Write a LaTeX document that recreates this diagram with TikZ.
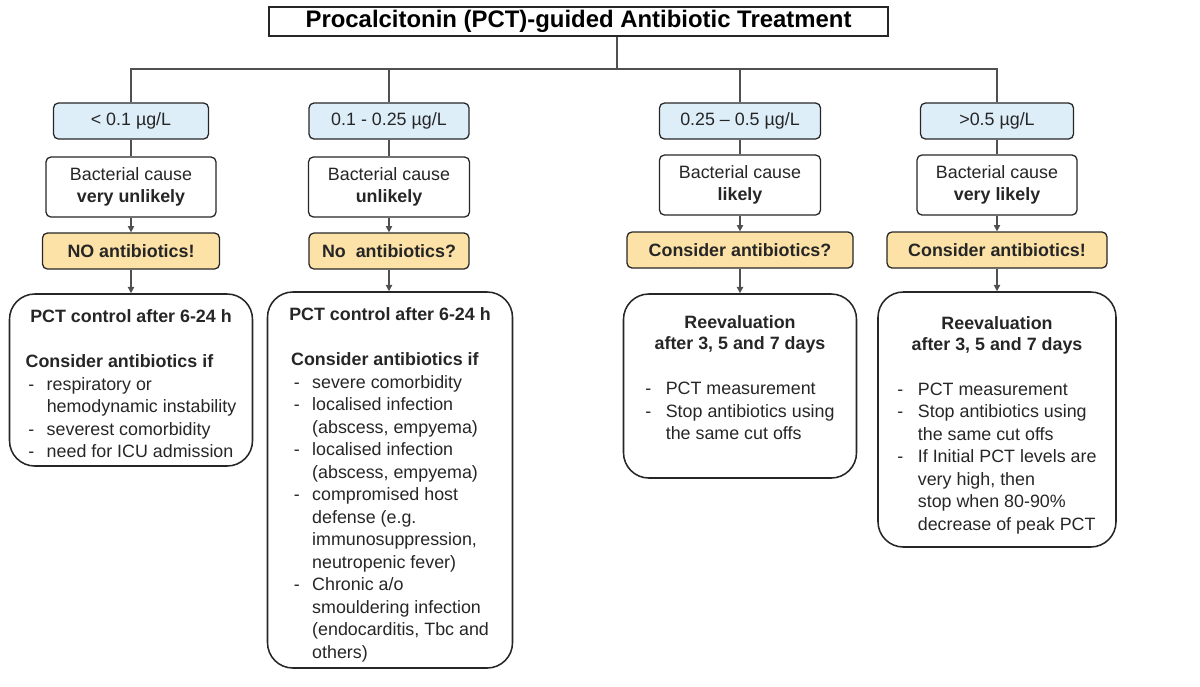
\documentclass[tikz,border=0pt]{standalone}
\usepackage{fontspec}
\setmainfont{Liberation Sans}
\usetikzlibrary{arrows.meta}
\newlength{\unitpx}
\setlength{\unitpx}{0.025cm}
\definecolor{rangeblue}{HTML}{DDEEF9}
\definecolor{adviceorange}{HTML}{FCE2A6}
\definecolor{linegray}{HTML}{505050}
\newcommand{\bodyfont}{\fontsize{12.7}{16}\selectfont}
\newcommand{\topgap}[1]{\rule{0pt}{#1}}
\begin{document}
\begin{tikzpicture}[x=\unitpx, y=-\unitpx,
% common options for the small boxes:
smallbox/.style = {draw=black!85, line width=0.9pt, rounded corners=3.5pt,
            align=center, inner sep=0, text=black!85, font=\bodyfont},
pctrange/.style = {smallbox, fill=rangeblue, minimum height=36\unitpx},
causebox/.style = {smallbox, fill=white, minimum height=60\unitpx},
advicebox/.style = {smallbox, fill=adviceorange, minimum height=36\unitpx, font=\bodyfont\bfseries},
% common options for the big boxes:
checkbox/.style = {draw=black!85, line width=1.1pt, rounded corners=18pt,
            align=center, inner sep=0, text=black!85, font=\bodyfont},
% common options for the connectors:
link/.style = {draw=linegray, line width=0.9pt},
arrowlink/.style = {link, -{Triangle[length=4.5pt,width=4.5pt]}}]
\useasboundingbox (0,0) rectangle (1200,686);
\node[draw=black!85, line width=1.4pt, minimum width=619\unitpx, minimum height=29\unitpx,
      inner sep=0, font=\fontsize{17}{20}\selectfont\bfseries] (title) at (578.5,21.5)
      {Procalcitonin (PCT)-guided Antibiotic Treatment};
\coordinate (hub) at (617,69);
% PCT ranges
\node[pctrange, minimum width=155\unitpx] (rng1) at (131,121) {< 0.1 µg/L};
\node[pctrange, minimum width=160\unitpx] (rng2) at (389,121) {0.1 - 0.25 µg/L};
\node[pctrange, minimum width=161\unitpx] (rng3) at (740,121) {0.25 – 0.5 µg/L};
\node[pctrange, minimum width=153\unitpx] (rng4) at (997,121) {>0.5 µg/L};
% bacterial cause
\node[causebox, minimum width=170\unitpx] (cause1) at (131,187) {Bacterial cause\\\textbf{very unlikely}};
\node[causebox, minimum width=161\unitpx] (cause2) at (389,187) {Bacterial cause\\\textbf{unlikely}};
\node[causebox, minimum width=161\unitpx] (cause3) at (740,185) {Bacterial cause\\\textbf{likely}};
\node[causebox, minimum width=160\unitpx] (cause4) at (997,185) {Bacterial cause\\\textbf{very likely}};
% advice
\node[advicebox, minimum width=177\unitpx] (adv1) at (131,251) {NO antibiotics!};
\node[advicebox, minimum width=160\unitpx] (adv2) at (389,251) {No\ \ antibiotics?};
\node[advicebox, minimum width=226\unitpx] (adv3) at (740,250) {Consider antibiotics?};
\node[advicebox, minimum width=220\unitpx] (adv4) at (997,250) {Consider antibiotics!};
% follow-up
\node[checkbox, minimum width=243\unitpx, minimum height=172\unitpx] (chk1) at (131,380)
  {\topgap{19.3pt}\textbf{PCT control after 6-24 h}\\[16pt]
   \begin{tabular}[t]{@{}p{15pt}@{}l@{}}
   \multicolumn{2}{@{}l@{}}{\textbf{Consider antibiotics if}}\\
   \hspace{2pt}- & respiratory or\\
     & hemodynamic instability\\
   \hspace{2pt}- & severest comorbidity\\
   \hspace{2pt}- & need for ICU admission
   \end{tabular}};
\node[checkbox, minimum width=245\unitpx, minimum height=376\unitpx] (chk2) at (390,480)
  {\topgap{18.3pt}\textbf{PCT control after 6-24 h}\\[16pt]
   \begin{tabular}[t]{@{}p{15pt}@{}l@{}}
   \multicolumn{2}{@{}l@{}}{\textbf{Consider antibiotics if}}\\
   \hspace{2pt}- & severe comorbidity\\
   \hspace{2pt}- & localised infection\\
     & (abscess, empyema)\\
   \hspace{2pt}- & localised infection\\
     & (abscess, empyema)\\
   \hspace{2pt}- & compromised host\\
     & defense (e.g.\\
     & immunosuppression,\\
     & neutropenic fever)\\
   \hspace{2pt}- & Chronic a/o\\
     & smouldering infection\\
     & (endocarditis, Tbc and\\
     & others)
   \end{tabular}};
\node[checkbox, minimum width=233\unitpx, minimum height=184\unitpx] (chk3) at (740,386)
  {\textbf{Reevaluation}\\[-0.8pt]\textbf{after 3, 5 and 7 days}\\[16pt]
   \begin{tabular}[t]{@{}p{14.5pt}@{}l@{}}
   - & PCT measurement\\
   - & Stop antibiotics using\\
     & the same cut offs\\[7pt]
   \end{tabular}};
\node[checkbox, minimum width=238\unitpx, minimum height=255\unitpx] (chk4) at (997,419.5)
  {\topgap{19.3pt}\textbf{Reevaluation}\\[-0.8pt]\textbf{after 3, 5 and 7 days}\\[16pt]
   \begin{tabular}[t]{@{}p{14.5pt}@{}l@{}}
   - & PCT measurement\\
   - & Stop antibiotics using\\
     & the same cut offs\\
   - & If Initial PCT levels are\\
     & very high, then\\
     & stop when 80-90\%\\
     & decrease of peak PCT
   \end{tabular}};
% connectors
\draw[link] (title.south -| hub) to (hub);
\draw[link] (rng1.north) |- (hub) -| (rng4.north);
\draw[link] (hub -| rng2.north) to (rng2.north);
\draw[link] (hub -| rng3.north) to (rng3.north);
\draw[link] (rng1.south) to (cause1.north);
\draw[link] (rng2.south) to (cause2.north);
\draw[link] (rng3.south) to (cause3.north);
\draw[link] (rng4.south) to (cause4.north);
\draw[arrowlink] (cause1.south) to (adv1.north);
\draw[arrowlink] (cause2.south) to (adv2.north);
\draw[arrowlink] (cause3.south) to (adv3.north);
\draw[arrowlink] (cause4.south) to (adv4.north);
\draw[arrowlink] (adv1.south) to (adv1.south |- chk1.north);
\draw[arrowlink] (adv2.south) to (adv2.south |- chk2.north);
\draw[arrowlink] (adv3.south) to (adv3.south |- chk3.north);
\draw[arrowlink] (adv4.south) to (adv4.south |- chk4.north);
\end{tikzpicture}
\end{document}
